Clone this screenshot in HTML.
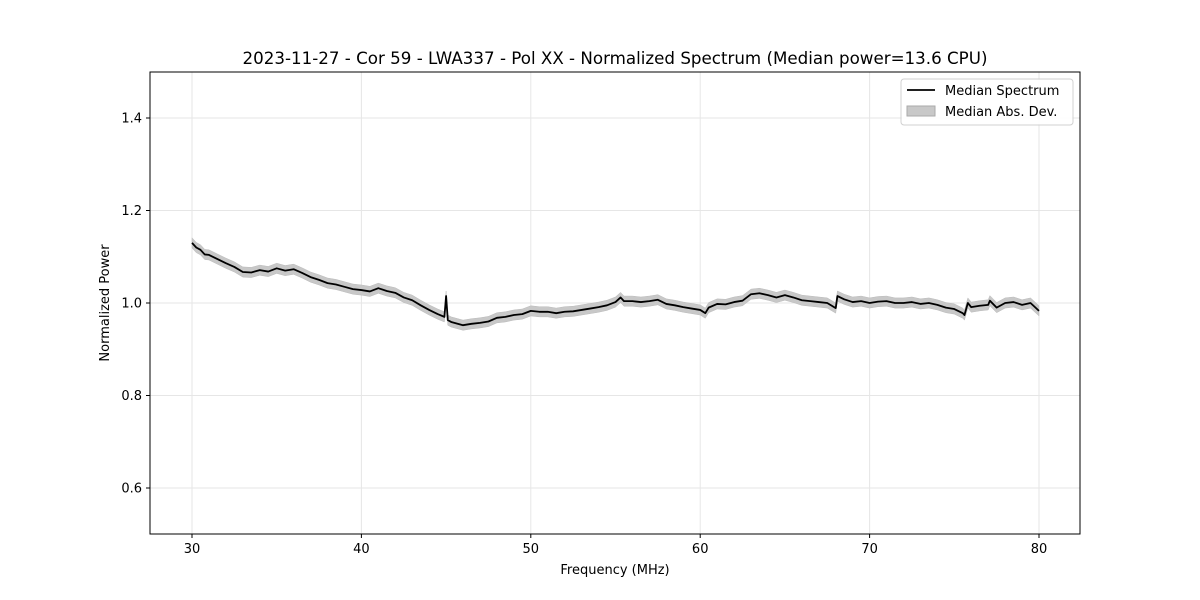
<!DOCTYPE html>
<html><head><meta charset="utf-8"><style>
body{margin:0;background:#fff}
svg{display:block;font-family:"DejaVu Sans","Liberation Sans",sans-serif}
</style></head><body>
<svg id="chart" width="1200" height="600">
<rect width="1200" height="600" fill="#fff"/>
<text x="615" y="64" text-anchor="middle" font-size="16.7">2023-11-27 - Cor 59 - LWA337 - Pol XX - Normalized Spectrum (Median power=13.6 CPU)</text>
<g id="grid"></g>
<g id="band"></g>
<g id="line"></g>
<rect x="150" y="72" width="930" height="462" fill="none" stroke="#000" stroke-width="1"/>
<g id="xticks"></g><g id="yticks"></g>
<text x="615" y="574" text-anchor="middle" font-size="13">Frequency (MHz)</text>
<text transform="translate(109,303) rotate(-90)" text-anchor="middle" font-size="13">Normalized Power</text>
<g>
<rect x="901" y="79" width="172" height="46" rx="3" fill="#fff" stroke="#ccc" opacity="0.9"/>
<line x1="907" y1="90" x2="935" y2="90" stroke="#000" stroke-width="1.8"/>
<text x="945" y="95" font-size="13">Median Spectrum</text>
<rect x="907" y="106" width="28" height="10" fill="#c8c8c8" stroke="#aaa"/>
<text x="945" y="116" font-size="13">Median Abs. Dev.</text>
</g>
</svg>
<script>
const freqs=[30,30.25,30.5,30.75,31,31.5,32,32.5,33,33.5,34,34.5,35,35.5,36,36.5,37,37.5,38,38.5,39,39.5,40,40.5,41,41.5,42,42.5,43,43.5,44,44.5,44.9,45,45.1,45.3,46,46.5,47,47.5,48,48.5,49,49.5,50,50.5,51,51.5,52,52.5,53,53.5,54,54.5,55,55.3,55.5,56,56.5,57,57.5,58,58.5,59,59.5,60,60.3,60.5,61,61.5,62,62.5,63,63.5,64,64.5,65,65.5,66,66.5,67,67.5,68,68.1,68.5,69,69.5,70,70.5,71,71.5,72,72.5,73,73.5,74,74.5,75,75.5,75.6,75.8,76,76.5,77,77.1,77.5,78,78.5,79,79.5,80];
const power=[1.13,1.12,1.115,1.105,1.104,1.095,1.086,1.078,1.067,1.066,1.071,1.068,1.075,1.07,1.073,1.065,1.056,1.05,1.043,1.04,1.035,1.03,1.028,1.025,1.032,1.026,1.022,1.012,1.006,0.995,0.985,0.976,0.97,1.015,0.963,0.959,0.952,0.955,0.957,0.96,0.968,0.97,0.974,0.976,0.983,0.981,0.981,0.978,0.981,0.982,0.985,0.988,0.991,0.995,1.002,1.012,1.004,1.004,1.002,1.004,1.007,0.998,0.995,0.991,0.988,0.985,0.978,0.99,0.998,0.997,1.002,1.005,1.019,1.021,1.017,1.012,1.017,1.012,1.006,1.004,1.002,1.0,0.989,1.015,1.008,1.002,1.004,1.0,1.003,1.004,1.0,1.0,1.002,0.998,1.0,0.996,0.99,0.987,0.978,0.974,1.0,0.991,0.994,0.996,1.005,0.99,1.0,1.002,0.996,1.0,0.983];
const mad=0.011;
const xTicks=[30,40,50,60,70,80];
const yTicks=[0.6,0.8,1.0,1.2,1.4];
const X=f=>192+(f-30)*16.94;
const Y=v=>303-(v-1)*462.5;
const NS='http://www.w3.org/2000/svg';
function mk(t,a,p){const e=document.createElementNS(NS,t);for(const k in a)e.setAttribute(k,a[k]);p.appendChild(e);return e;}
const grid=document.getElementById('grid'),xt=document.getElementById('xticks'),yt=document.getElementById('yticks');
xTicks.forEach(t=>{const x=X(t);
const g=mk('line',{x1:x,x2:x,y1:72,y2:534,stroke:'#e6e6e6','stroke-width':1},grid);


mk('line',{x1:x,x2:x,y1:534,y2:538,stroke:'#000'},xt);
const l=mk('text',{x:x,y:553,'text-anchor':'middle','font-size':13},xt);l.textContent=t;

});
yTicks.forEach(t=>{const y=Y(t);
const g=mk('line',{x1:150,x2:1080,y1:y,y2:y,stroke:'#e6e6e6','stroke-width':1},grid);


mk('line',{x1:146,x2:150,y1:y,y2:y,stroke:'#000'},yt);
const l=mk('text',{x:142,y:y+4.5,'text-anchor':'end','font-size':13},yt);l.textContent=t.toFixed(1);

});
let up=freqs.map((f,i)=>X(f)+','+Y(power[i]+mad)).join(' ');
let dn=freqs.map((f,i)=>X(f)+','+Y(power[i]-mad)).reverse().join(' ');
const b=mk('polygon',{points:up+' '+dn,fill:'#c8c8c8',stroke:'#bbb','stroke-width':0.5},document.getElementById('band'));


const ln=mk('polyline',{points:freqs.map((f,i)=>X(f)+','+Y(power[i])).join(' '),fill:'none',stroke:'#000','stroke-width':1.8,'stroke-linejoin':'round'},document.getElementById('line'));


</script>
</body></html>
